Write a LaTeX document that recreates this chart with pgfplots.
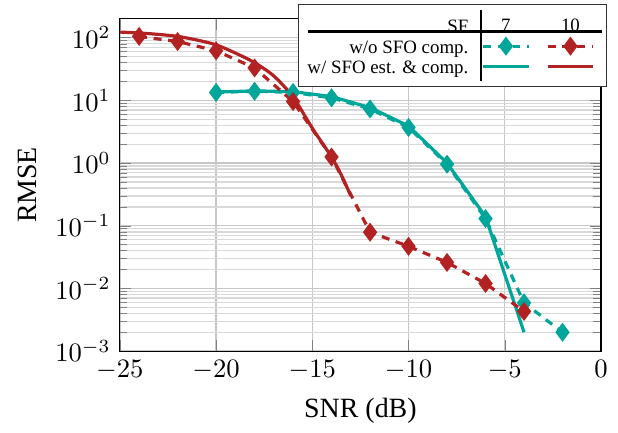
\documentclass[border=0pt]{standalone}
\usepackage{fontspec}
\setmainfont{Liberation Serif}
\usepackage{pgfplots}
\pgfplotsset{compat=1.18}
\definecolor{myteal}{RGB}{0,166,153}
\definecolor{myred}{RGB}{178,34,34}
\newcommand{\legfont}{\fontsize{7.1}{8.5}\selectfont}
\begin{document}
\begin{tikzpicture}
\begin{axis}[
  scale only axis, width=181pt, height=125pt,
  xmin=-25, xmax=0, ymin=1e-3, ymax=200, ymode=log,
  xtick={-25,-20,-15,-10,-5,0},
  ytick={1e-3,1e-2,1e-1,1,10,100},
  xlabel={SNR (dB)}, ylabel={RMSE},
  label style={font=\fontsize{10.5}{12.5}\selectfont},
  xmajorgrids, ymajorgrids, yminorgrids,
  major grid style={black!22, line width=0.5pt},
  minor grid style={black!15, line width=0.5pt},
  legend columns=3,
  legend cell align=right,
  legend style={name=leg, at={(1.013,1.045)}, anchor=north east,
    font=\legfont, draw=black!80, inner xsep=3.5pt, inner ysep=3pt,
    nodes={inner xsep=0pt, inner ysep=0pt, text depth=0.2em, text height=0.72em},
    /tikz/row sep=-1.5pt,
    /tikz/every even column/.append style={column sep=5pt},
    /tikz/every odd column/.append style={column sep=0pt},
    /tikz/column 1/.append style={column sep=2.5pt}},
]
\addlegendimage{empty legend}\addlegendentry{SF}
\addlegendimage{legend image code/.code={\node[font=\legfont,inner sep=0pt,anchor=base] at (0.3cm,-0.5ex) {7}; \path (0.3cm,-4.5pt);}}\addlegendentry{}
\addlegendimage{legend image code/.code={\node[font=\legfont,inner sep=0pt,anchor=base] at (0.3cm,-0.5ex) {10};}}\addlegendentry{}
\addlegendimage{empty legend}\addlegendentry{w/o SFO comp.}
\addlegendimage{myteal, very thick, dash pattern=on 3pt off 2.5pt, mark=diamond*, mark size=2.6pt, mark options={solid}}\addlegendentry{}
\addlegendimage{myred, very thick, dash pattern=on 3pt off 2.5pt, mark=diamond*, mark size=2.6pt, mark options={solid}}\addlegendentry{}
\addlegendimage{empty legend}\addlegendentry{w/ SFO est. \& comp.}
\addlegendimage{myteal, very thick}\addlegendentry{}
\addlegendimage{myred, very thick}\addlegendentry{}

% SF7 with SFO est. & comp. (solid)
\addplot[myteal, very thick, forget plot] coordinates {
(-20,13.6) (-18,14.2) (-16,13.8) (-14,11.5) (-12,7.7) (-10,3.9) (-8,1.0) (-6,0.14) (-4,0.002)};
% SF10 with SFO est. & comp. (solid)
\addplot[myred, very thick, smooth, forget plot] coordinates {
(-25,123) (-24,119) (-23,113) (-22,105) (-21,92) (-20,77) (-19,57) (-18,40) (-17,24.5) (-16,11.3) (-15,3.6) (-14,1.25) (-13.5,0.65) (-13,0.3)};
% SF7 w/o SFO comp. (dashed)
\addplot[myteal, very thick, dash pattern=on 3pt off 2.5pt, mark=diamond*, mark size=2.6pt, mark options={solid}, forget plot] coordinates {
(-20,13.4) (-18,14.0) (-16,13.4) (-14,11.0) (-12,7.3) (-10,3.7) (-8,0.96) (-6,0.13) (-4,0.0059) (-2,0.0020)};
% SF10 w/o SFO comp. (dashed)
\addplot[myred, very thick, dash pattern=on 3pt off 2.5pt, mark=diamond*, mark size=2.6pt, mark options={solid}, forget plot] coordinates {
(-24,105) (-22,87) (-20,62) (-18,33) (-16,9.6) (-14,1.25) (-12,0.079) (-10,0.047) (-8,0.026) (-6,0.012) (-4,0.0043)};
\end{axis}
\draw[line width=1.2pt] ([xshift=4pt,yshift=-10.5pt]leg.north west) -- ([xshift=-2pt,yshift=-10.5pt]leg.north east);
\draw[line width=0.8pt] ([xshift=-47.4pt,yshift=-2.3pt]leg.north east) -- ([xshift=-47.4pt,yshift=2.3pt]leg.south east);
\path ([xshift=-45.1pt,yshift=-29.3pt]current axis.south west) rectangle ([xshift=6.4pt,yshift=7.1pt]current axis.north east);
\end{tikzpicture}
\end{document}
